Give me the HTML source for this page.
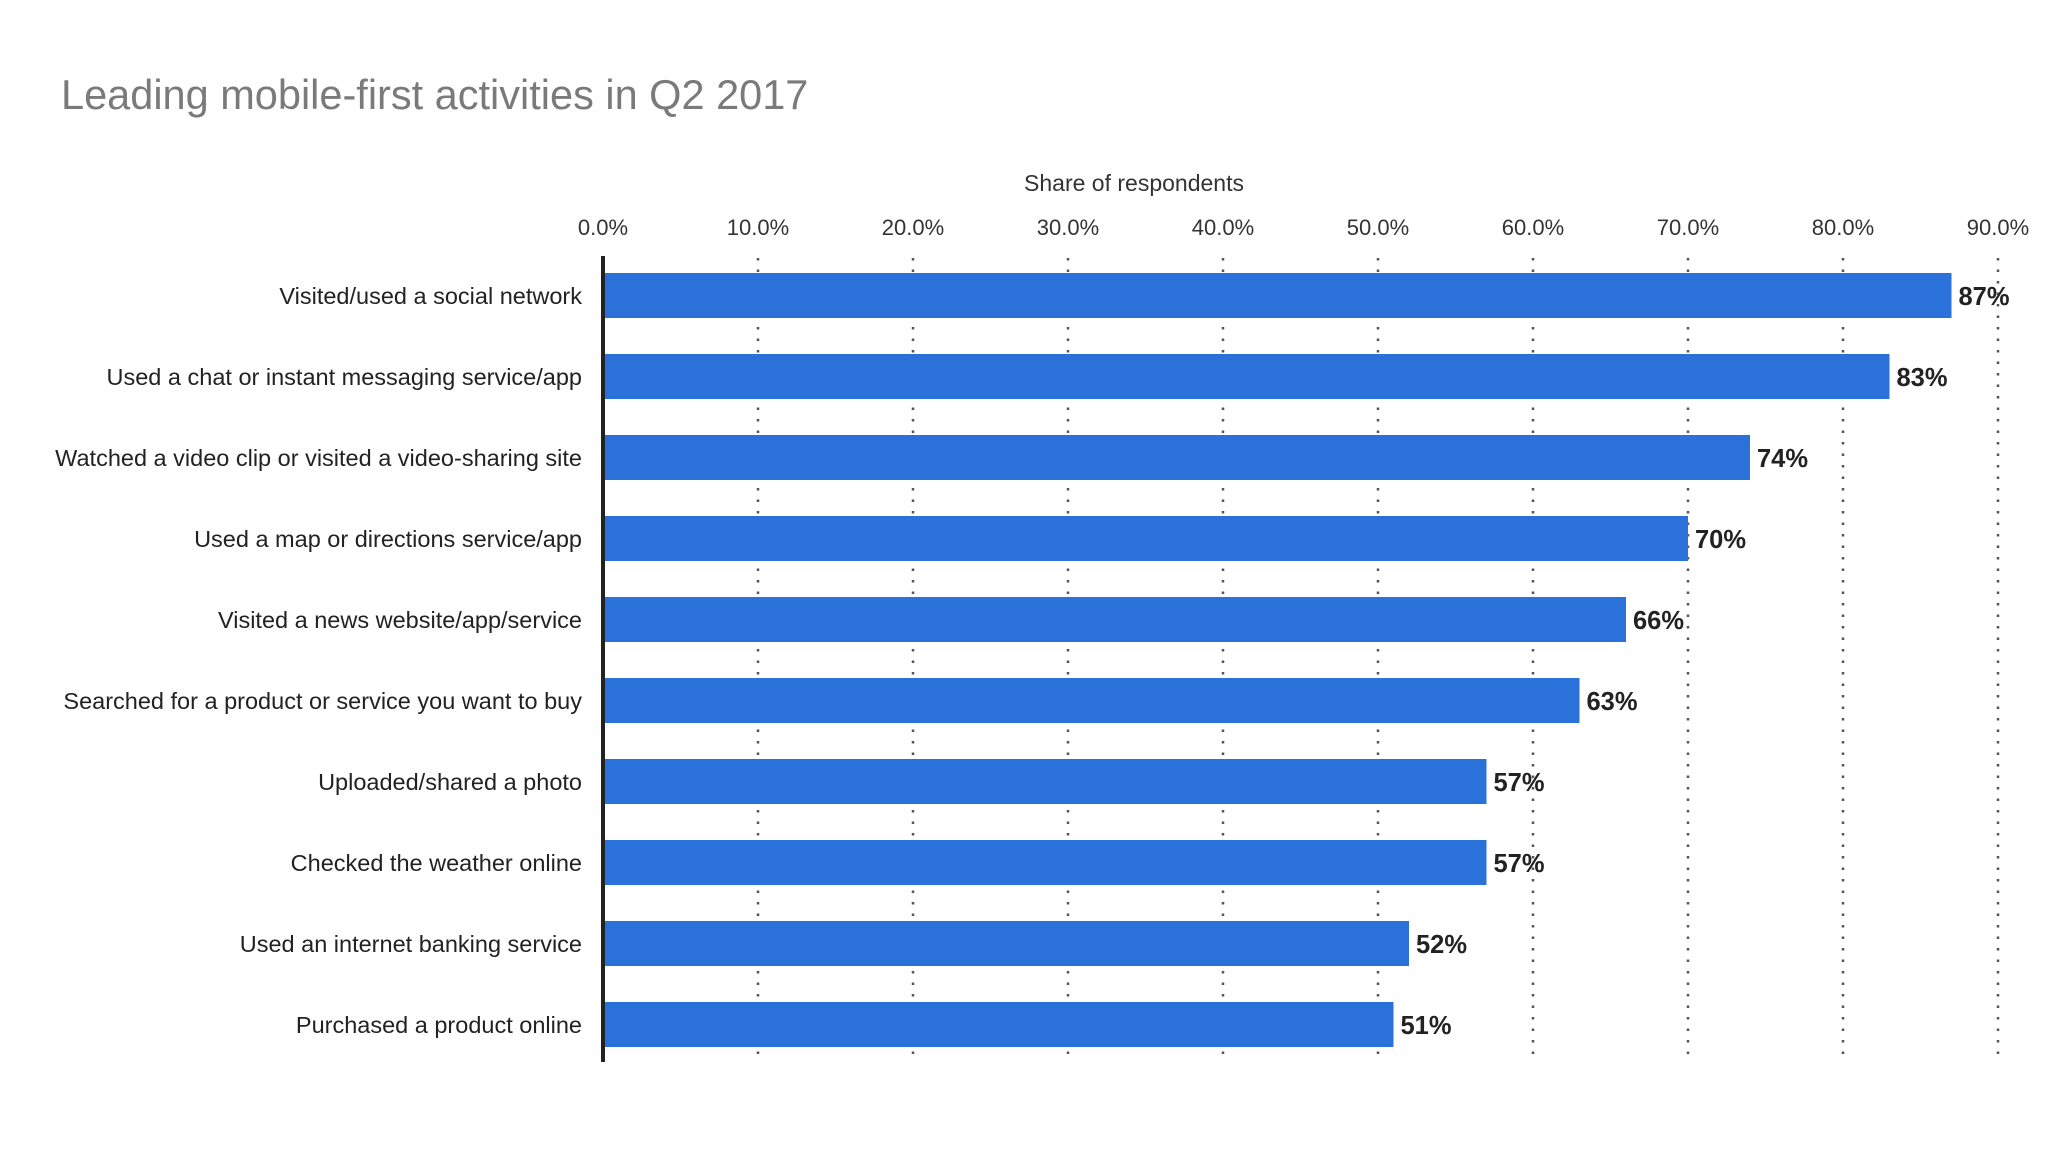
<!DOCTYPE html>
<html><head><meta charset="utf-8">
<style>
html,body{margin:0;padding:0;background:#fff;}
body{width:2048px;height:1152px;overflow:hidden;font-family:"Liberation Sans",sans-serif;}
</style></head>
<body>
<svg id="chart" width="2048" height="1152" xmlns="http://www.w3.org/2000/svg">
<text x="61" y="109" font-size="41.5" fill="#7a7a7a">Leading mobile-first activities in Q2 2017</text>
<text x="1134" y="191" font-size="23" fill="#333" text-anchor="middle">Share of respondents</text>
<g id="grid"></g><g id="bars"></g>
</svg>
<script>
const categories=["Visited/used a social network","Used a chat or instant messaging service/app","Watched a video clip or visited a video-sharing site","Used a map or directions service/app","Visited a news website/app/service","Searched for a product or service you want to buy","Uploaded/shared a photo","Checked the weather online","Used an internet banking service","Purchased a product online"];
const values=[87,83,74,70,66,63,57,57,52,51];
const ticks=[0,10,20,30,40,50,60,70,80,90];
const tickLabels=["0.0%","10.0%","20.0%","30.0%","40.0%","50.0%","60.0%","70.0%","80.0%","90.0%"];
const NS="http://www.w3.org/2000/svg";
const x=v=>603+v*15.5;
const y=i=>273+i*81;
const grid=document.getElementById('grid'),bars=document.getElementById('bars');
function mk(tag,attrs,parent,txt){const e=document.createElementNS(NS,tag);for(const k in attrs)e.setAttribute(k,attrs[k]);if(txt!==undefined)e.textContent=txt;parent.appendChild(e);return e;}
ticks.forEach((t,i)=>{
  if(t>0){const l=mk('line',{x1:x(t),x2:x(t),y1:258,y2:1062,stroke:'#555','stroke-width':2.5,'stroke-dasharray':'2.5 9'},grid);
  
  }
  const tl=mk('text',{x:x(t),y:235,'font-size':22,fill:'#333','text-anchor':'middle'},grid,tickLabels[i]);
  
  
});
values.forEach((v,i)=>{
  const r=mk('rect',{x:x(0),y:y(i),width:x(v)-x(0),height:45,fill:'#2a72d9'},bars);
  
  
  const c=mk('text',{x:582,y:y(i)+31,'font-size':23.5,fill:'#222','text-anchor':'end'},bars,categories[i]);
  
  
  const vl=mk('text',{x:x(v)+7,y:y(i)+32,'font-size':25.5,'font-weight':'bold',fill:'#222'},bars,v+'%');
  
  
});
const ax=mk('line',{x1:x(0),x2:x(0),y1:256,y2:1062,stroke:'#222','stroke-width':4},bars);


</script>
</body></html>
